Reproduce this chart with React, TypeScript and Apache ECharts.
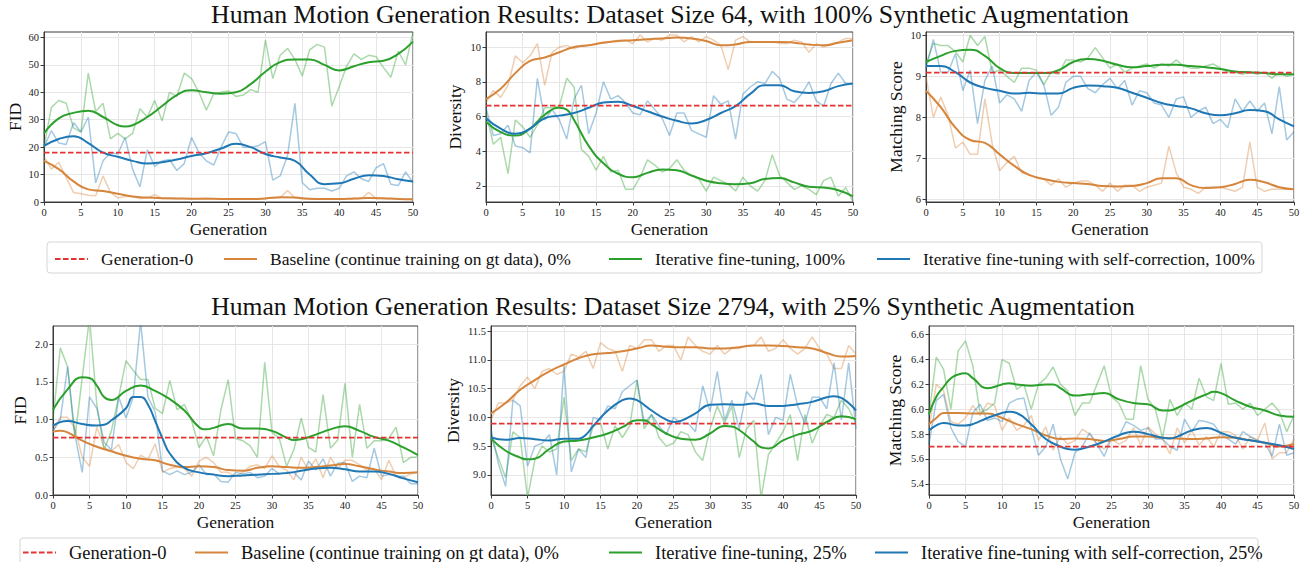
import React, { useEffect, useRef } from "react";
import * as echarts from "echarts";

// ---------------- DATA ----------------
const generations = [
  0, 1, 2, 3, 4, 5, 6, 7, 8, 9,
  10, 11, 12, 13, 14, 15, 16, 17, 18, 19,
  20, 21, 22, 23, 24, 25, 26, 27, 28, 29,
  30, 31, 32, 33, 34, 35, 36, 37, 38, 39,
  40, 41, 42, 43, 44, 45, 46, 47, 48, 49,
  50,
];

const title64 = "Human Motion Generation Results: Dataset Size 64, with 100% Synthetic Augmentation";
const title2794 = "Human Motion Generation Results: Dataset Size 2794, with 25% Synthetic Augmentation";

const nameGen0 = "Generation-0";
const nameBaseline = "Baseline (continue training on gt data), 0%";
const nameIter100 = "Iterative fine-tuning, 100%";
const nameSelf100 = "Iterative fine-tuning with self-correction, 100%";
const nameIter25 = "Iterative fine-tuning, 25%";
const nameSelf25 = "Iterative fine-tuning with self-correction, 25%";

const xTicks = [0, 5, 10, 15, 20, 25, 30, 35, 40, 45, 50];

// Generation-0 reference values
const gen0Values = [18, 6.63, 9.09, 0.76, 9.89, 5.7];

// ---- Dataset 64: FID ----
const fid64Base = [
  16.5, 12, 14.5, 9, 3.5, 3, 2.5, 2.3, 9.5, 3.5,
  1.5, 2, 2, 1.3, 1.5, 2.7, 1.3, 1.2, 1.3, 1.2,
  1.1, 1.2, 1.4, 1.2, 1.1, 1, 1, 1, 1.1, 1,
  1.3, 1.5, 1.6, 4.2, 1.5, 1.2, 1, 1, 1, 1,
  1, 1.2, 1.3, 1.2, 3.5, 1.3, 1.2, 1.2, 1, 1,
  0.9,
];
const fid64Iter = [
  20, 34.5, 37, 36, 27, 25.5, 47, 33, 36, 23,
  25, 23, 25, 34, 31, 37, 29.5, 40, 38.5, 47,
  45, 40, 33.5, 39.5, 40, 40.5, 38.5, 39, 41, 40,
  59, 45, 53.5, 56, 52, 46, 55.5, 57.5, 56.5, 35,
  42, 49.5, 54, 52, 53.5, 53, 49, 45.5, 55, 50,
  62,
];
const fid64Self = [
  20, 26, 21.5, 21, 29, 25.5, 31, 7, 15, 18,
  17.5, 23.5, 12, 5.5, 19, 13, 15, 15.5, 11.5, 14,
  23.5, 18, 15, 13.5, 20, 25.5, 25, 20, 20, 20.5,
  22, 8, 9.5, 17, 36, 7, 4.5, 5, 5, 4,
  5, 9.5, 11, 8.5, 7.5, 12.5, 14, 6.5, 6, 11,
  7,
];
const fid64BaseSmooth = [
  [0, 15], [2, 12], [4, 7.5], [6, 4.6], [8, 4], [10, 3], [12, 2], [14, 1.6], [16, 1.4],
  [18, 1.3], [20, 1.2], [22, 1.2], [24, 1.1], [26, 1.1], [28, 1.1], [30, 1.3], [32, 1.7],
  [34, 1.6], [36, 1.2], [38, 1.1], [40, 1.1], [42, 1.3], [44, 1.5], [46, 1.4], [48, 1.1], [50, 1],
];
const fid64IterSmooth = [
  [0, 25], [2, 30.5], [4, 32.5], [6, 33.3], [8, 31], [10, 28], [11, 27.5], [12, 28], [14, 31],
  [16, 35], [18, 39], [20, 40.8], [22, 40], [24, 39.5], [26, 40], [28, 43], [30, 47.5],
  [32, 51], [34, 52], [36, 52], [38, 50], [40, 48], [42, 49.5], [44, 51], [46, 51.5], [48, 54], [50, 58.5],
];
const fid64SelfSmooth = [
  [0, 20.5], [2, 23], [4, 24], [6, 21.5], [8, 18], [10, 16.5], [12, 15], [14, 14], [16, 14.5],
  [18, 15.5], [20, 16.8], [22, 17.8], [24, 19.5], [26, 21.2], [28, 20], [30, 17.5], [32, 16.2],
  [34, 15], [36, 10], [38, 6.5], [40, 6.8], [42, 8.5], [44, 9.8], [46, 9.5], [48, 8.3], [50, 7.5],
];

// ---- Dataset 64: Diversity ----
const div64Base = [
  6.8, 7.5, 7.1, 7.8, 9.5, 9.1, 9.5, 10.2, 7.8, 9.7,
  10, 10.1, 9.9, 10.1, 10.1, 10.2, 10.3, 10.3, 10.4, 10.4,
  10.2, 10.7, 10.3, 10.5, 10.4, 10.7, 10.7, 10.3, 10.6, 10.3,
  10.6, 10.4, 10.1, 8.7, 10.4, 10.6, 10.3, 10.3, 10.3, 10.3,
  10.2, 10.2, 10.4, 10.3, 9.7, 10.2, 10, 10.2, 10.3, 10.5,
  10.5,
];
const div64Iter = [
  6.2, 4.4, 4.8, 2.7, 5.8, 5.4, 4.8, 5.5, 6.5, 6.5,
  6.6, 8.2, 7.7, 4.1, 3.7, 2.9, 3.7, 2.8, 2.9, 1.8,
  1.8, 2.5, 3.5, 3.2, 2.8, 3, 3.5, 2.9, 2.6, 2.4,
  1.7, 2.5, 2.3, 2.1, 1.7, 2.5, 2, 1.7, 2.3, 3.8,
  2.6, 2.2, 1.8, 2, 1.8, 1.5, 2.3, 2.5, 1.4, 1.9,
  1.1,
];
const div64Self = [
  6.5, 4.9, 5, 5.5, 4.3, 4.2, 3.9, 8.2, 5.8, 6.4,
  5.8, 4.7, 7, 7.8, 5, 6.2, 8, 7, 7.2, 6.8,
  6.2, 6.1, 6.9, 6.4, 5.9, 4.9, 6.2, 6.2, 5.2, 5,
  4.8, 7.2, 6.7, 6.9, 4.7, 7.3, 7.7, 8, 7.9, 8.6,
  8.2, 7, 6.8, 7.3, 8, 6.9, 6.6, 7.9, 8.5, 7.9,
  7.9,
];
const div64BaseSmooth = [
  [0, 7], [2, 7.6], [4, 8.5], [6, 9.2], [8, 9.4], [10, 9.7], [12, 10], [14, 10.1], [16, 10.25],
  [18, 10.35], [20, 10.4], [22, 10.45], [24, 10.5], [26, 10.55], [28, 10.5], [30, 10.35], [32, 10.1],
  [34, 10.15], [36, 10.3], [38, 10.3], [40, 10.3], [42, 10.25], [44, 10.15], [46, 10.1], [48, 10.25], [50, 10.4],
];
const div64IterSmooth = [
  [0, 5.7], [2, 5.1], [4, 4.9], [6, 5.3], [8, 6.1], [10, 6.5], [11, 6.4], [12, 5.8], [14, 4.3],
  [16, 3.3], [18, 2.7], [20, 2.5], [22, 2.75], [24, 2.95], [26, 2.9], [28, 2.6], [30, 2.3],
  [32, 2.15], [34, 2.1], [36, 2.15], [38, 2.4], [40, 2.45], [42, 2.2], [44, 1.95], [46, 1.9], [48, 1.75], [50, 1.4],
];
const div64SelfSmooth = [
  [0, 5.9], [2, 5.3], [4, 5], [6, 5.3], [8, 5.9], [10, 6.05], [12, 6.2], [14, 6.5], [16, 6.8],
  [18, 6.85], [20, 6.6], [22, 6.3], [24, 6], [26, 5.75], [28, 5.6], [30, 5.8], [32, 6.2],
  [34, 6.6], [36, 7.3], [38, 7.8], [40, 7.8], [42, 7.45], [44, 7.35], [46, 7.45], [48, 7.75], [50, 7.9],
];

// ---- Dataset 64: Matching Score ----
const ms64Base = [
  9.0, 8, 8.5, 8.05, 7.25, 7.4, 7.1, 7.1, 8.45, 7.35,
  6.7, 6.9, 7.05, 6.65, 6.6, 6.55, 6.5, 6.35, 6.5, 6.3,
  6.4, 6.45, 6.45, 6.35, 6.2, 6.4, 6.2, 6.35, 6.35, 6.2,
  6.3, 6.35, 6.4, 7.3, 6.65, 6.3, 6.25, 6.15, 6.3, 6.3,
  6.3, 6.25, 6.2, 6.3, 7.4, 6.3, 6.2, 6.25, 6.25, 6.25,
  6.25,
];
const ms64Iter = [
  9.3, 9.8, 9.75, 9.75, 9.6, 9.35, 10, 9.75, 9.97, 9.1,
  9.15, 9, 8.85, 9.2, 9.2, 9.15, 8.8, 9.1, 9.05, 9.4,
  9.4, 9.35, 9.45, 9.7, 9.45, 9.2, 9.3, 9.1, 9.2, 9.25,
  9.3, 9.2, 9.3, 9.25, 9.4, 9.25, 9.2, 9.2, 9.25, 9.3,
  9.2, 9.1, 9.1, 9.05, 9.1, 9.05, 9.1, 8.95, 9.1, 9,
  9.05,
];
const ms64Self = [
  9.2, 9.9, 9.1, 9.1, 9.55, 8.65, 9.15, 7.85, 8.9, 9.25,
  8.35, 8.55, 8.45, 8.15, 8.9, 9.1, 8.8, 8.05, 8.25, 8.85,
  9, 9, 8.7, 8.6, 8.8, 8.95, 8.7, 8.9, 8.3, 8.65,
  8.6, 8.35, 8.3, 8, 8.45, 8.5, 8, 8.15, 8.25, 7.85,
  7.95, 7.75, 8.45, 8.15, 8.4, 8.15, 8.35, 7.6, 8.75, 7.45,
  7.65,
];
const ms64BaseSmooth = [
  [0, 8.65], [2, 8.25], [4, 7.75], [6, 7.45], [8, 7.38], [10, 7.1], [12, 6.82], [14, 6.6], [16, 6.5],
  [18, 6.43], [20, 6.4], [22, 6.38], [24, 6.33], [26, 6.32], [28, 6.33], [30, 6.4], [32, 6.52],
  [34, 6.52], [36, 6.35], [38, 6.28], [40, 6.3], [42, 6.38], [44, 6.48], [46, 6.42], [48, 6.3], [50, 6.25],
];
const ms64IterSmooth = [
  [0, 9.35], [2, 9.5], [4, 9.62], [6, 9.65], [8, 9.5], [10, 9.2], [12, 9.08], [14, 9.08], [16, 9.08],
  [18, 9.15], [20, 9.35], [22, 9.42], [24, 9.38], [26, 9.28], [28, 9.22], [30, 9.25], [32, 9.28],
  [34, 9.28], [36, 9.25], [38, 9.22], [40, 9.18], [42, 9.12], [44, 9.1], [46, 9.08], [48, 9.05], [50, 9.05],
];
const ms64SelfSmooth = [
  [0, 9.25], [2, 9.25], [4, 9.1], [6, 8.85], [8, 8.72], [10, 8.65], [12, 8.58], [14, 8.6], [16, 8.58],
  [18, 8.58], [20, 8.72], [22, 8.78], [24, 8.76], [26, 8.72], [28, 8.6], [30, 8.48], [32, 8.35],
  [34, 8.28], [36, 8.22], [38, 8.1], [40, 8.05], [42, 8.1], [44, 8.18], [46, 8.15], [48, 7.95], [50, 7.78],
];

// ---- Dataset 2794: FID ----
const fid2794Base = [
  0.85, 1.03, 1.03, 0.88, 0.5, 0.38, 0.9, 0.63, 0.58, 0.67,
  0.43, 0.35, 0.53, 0.47, 0.68, 0.3, 0.35, 0.37, 0.35, 0.25,
  0.45, 0.5, 0.43, 0.3, 0.3, 0.25, 0.3, 0.38, 0.4, 0.35,
  0.52, 0.38, 0.33, 0.2, 0.5, 0.33, 0.48, 0.23, 0.5, 0.35,
  0.46, 0.46, 0.4, 0.33, 0.35, 0.2, 0.46, 0.25, 0.23, 0.28,
  0.3,
];
const fid2794Iter = [
  1.0, 1.95, 1.7, 0.75, 1.55, 2.35, 1.2, 0.6, 0.85, 1.3,
  1.78, 1.65, 1.53, 1.53, 1.15, 1.08, 1.52, 1.13, 1.2, 0.98,
  0.63, 0.78, 0.52, 1.13, 1.53, 0.75, 0.72, 0.65, 0.5, 1.76,
  0.83, 0.75, 0.38, 0.6, 1.02, 0.63, 0.57, 1.33, 0.62, 0.73,
  1.48, 0.5, 1.2, 0.62, 0.72, 0.72, 0.75, 0.9, 0.43, 0.5,
  0.5,
];
const fid2794Self = [
  0.85, 1.0, 1.7, 0.8, 0.3, 1.3, 1.15, 0.7, 0.6, 1.3,
  1.02, 1.3, 2.3, 1.3, 1.1, 0.32, 0.27, 0.32, 0.27, 0.3,
  0.4, 0.27, 0.28, 0.18, 0.17, 0.3, 0.28, 0.3, 0.23, 0.25,
  0.35, 0.28, 0.3, 0.3, 0.2, 0.45, 0.33, 0.48, 0.25, 0.42,
  0.43, 0.18, 0.25, 0.23, 0.62, 0.25, 0.27, 0.25, 0.25, 0.15,
  0.15,
];
const fid2794BaseSmooth = [
  [0, 0.84], [1, 0.85], [2, 0.83], [4, 0.72], [6, 0.64], [8, 0.58], [10, 0.52], [12, 0.48], [14, 0.46],
  [16, 0.4], [18, 0.37], [20, 0.38], [22, 0.37], [24, 0.33], [26, 0.32], [28, 0.36], [30, 0.38],
  [32, 0.37], [34, 0.36], [36, 0.37], [38, 0.39], [40, 0.41], [42, 0.38], [44, 0.34], [46, 0.31], [48, 0.29], [50, 0.3],
];
const fid2794IterSmooth = [
  [0, 1.13], [2, 1.4], [4, 1.56], [5, 1.55], [6, 1.45], [7, 1.3], [8, 1.26], [10, 1.38], [12, 1.45],
  [14, 1.38], [16, 1.27], [18, 1.12], [20, 0.9], [21, 0.87], [22, 0.89], [24, 0.94], [26, 0.88],
  [28, 0.88], [30, 0.85], [32, 0.76], [33, 0.73], [34, 0.74], [36, 0.8], [38, 0.87], [40, 0.91],
  [42, 0.85], [44, 0.77], [46, 0.72], [48, 0.63], [50, 0.53],
];
const fid2794SelfSmooth = [
  [0, 0.92], [2, 0.98], [4, 0.94], [6, 0.92], [7, 0.93], [8, 0.99], [10, 1.15], [11, 1.3], [12, 1.3],
  [13, 1.2], [14, 0.98], [15, 0.75], [16, 0.55], [18, 0.36], [20, 0.3], [22, 0.27], [24, 0.25],
  [26, 0.26], [28, 0.27], [30, 0.28], [32, 0.29], [34, 0.32], [36, 0.35], [38, 0.36], [40, 0.34],
  [42, 0.31], [44, 0.31], [46, 0.28], [48, 0.22], [50, 0.17],
];

// ---- Dataset 2794: Diversity ----
const div2794Base = [
  9.95, 10.25, 10.25, 10.3, 10.55, 10.7, 10.5, 10.8, 10.85, 10.75,
  10.8, 11.1, 11.05, 11.15, 10.85, 11.3, 11.2, 11.15, 10.8, 11.25,
  11.2, 11.35, 11.35, 11.15, 11.25, 11.25, 11.0, 11.4, 11.25, 11.15,
  11.1, 11.25, 11.1, 11.2, 11.2, 11.25, 11.25, 11.4, 11.15, 11.2,
  11.35, 11.2, 11.1, 11.2, 11.4, 11.2, 11.1, 10.85, 10.85, 11.25,
  11.1,
];
const div2794Iter = [
  9.65, 9.3, 8.95, 9.75, 9.65, 8.6, 9.25, 9.5, 9.4, 9.45,
  10.35, 9.25, 9.45, 9.4, 9.85, 9.9, 9.45, 9.85, 9.65, 9.85,
  10.65, 9.8, 10.05, 9.65, 9.5, 9.55, 9.75, 9.7, 9.4, 9.25,
  9.8, 10.2, 9.9, 10.2, 9.3, 9.8, 9.95, 8.6, 9.35, 9.55,
  9.75, 10.05, 9.25, 10.05, 9.55, 9.85, 10.05, 10.0, 10.3, 10.15,
  9.9,
];
const div2794Self = [
  9.8, 9.2, 8.8, 10.3, 10.2, 9.15, 9.5, 9.55, 9.7, 9.0,
  10.9, 9.05, 9.45, 9.3, 10.0, 9.95, 10.2, 10.15, 10.45, 10.55,
  10.65, 9.9, 10.05, 9.85, 9.7, 10.0, 9.9, 9.9, 9.75, 10.55,
  10.1, 10.8, 9.95, 10.3, 9.8, 10.45, 10.3, 10.75, 9.7, 10.0,
  9.95, 10.75, 10.2, 9.9, 10.35, 10.35, 10.15, 10.95, 9.95, 10.95,
  9.8,
];
const div2794BaseSmooth = [
  [0, 10.07], [2, 10.25], [4, 10.48], [6, 10.65], [8, 10.8], [10, 10.92], [12, 11.03], [14, 11.1],
  [16, 11.12], [18, 11.15], [20, 11.2], [22, 11.25], [24, 11.23], [26, 11.22], [28, 11.22], [30, 11.2],
  [32, 11.2], [34, 11.22], [36, 11.25], [38, 11.25], [40, 11.24], [42, 11.22], [44, 11.2], [46, 11.12],
  [48, 11.06], [50, 11.07],
];
const div2794IterSmooth = [
  [0, 9.63], [2, 9.42], [4, 9.3], [5, 9.27], [6, 9.28], [8, 9.45], [10, 9.58], [12, 9.6], [14, 9.65],
  [16, 9.72], [18, 9.83], [20, 9.95], [21, 9.95], [22, 9.88], [24, 9.72], [26, 9.63], [28, 9.61],
  [30, 9.72], [32, 9.85], [33, 9.84], [34, 9.78], [36, 9.58], [37, 9.48], [38, 9.46], [40, 9.6],
  [42, 9.7], [44, 9.77], [46, 9.92], [48, 10.02], [50, 9.97],
];
const div2794SelfSmooth = [
  [0, 9.65], [2, 9.61], [4, 9.64], [6, 9.62], [8, 9.6], [10, 9.63], [12, 9.63], [13, 9.7], [14, 9.85],
  [16, 10.12], [18, 10.3], [19, 10.33], [20, 10.3], [22, 10.12], [24, 9.96], [25, 9.92], [26, 9.94],
  [28, 10.07], [30, 10.22], [32, 10.23], [34, 10.22], [36, 10.24], [38, 10.2], [40, 10.2], [42, 10.23],
  [44, 10.27], [46, 10.35], [47, 10.37], [48, 10.34], [50, 10.12],
];

// ---- Dataset 2794: Matching Score ----
const ms2794Base = [
  5.85, 6.2, 6.15, 5.9, 5.88, 5.93, 6.03, 5.95, 6.05, 6.03,
  5.83, 5.93, 5.83, 5.87, 5.95, 5.75, 5.86, 5.67, 5.78, 5.72,
  5.75, 5.84, 5.8, 5.72, 5.68, 5.76, 5.72, 5.75, 5.85, 5.71,
  5.86, 5.8, 5.76, 5.64, 5.85, 5.73, 5.83, 5.71, 5.78, 5.7,
  5.82, 5.82, 5.79, 5.68, 5.78, 5.75, 5.89, 5.6, 5.65, 5.65,
  5.76,
];
const ms2794Iter = [
  5.95, 6.42, 6.32, 6.0, 6.47, 6.55, 6.35, 5.97, 6.0, 6.05,
  6.4, 6.37, 6.16, 6.2, 6.0, 6.2, 6.25, 6.34, 6.2, 6.15,
  5.95, 6.05, 6.05, 6.2, 6.35, 6.1, 6.05, 5.92, 5.92, 6.35,
  6.08, 6.0, 5.77, 6.08, 5.95, 6.05, 6.0, 6.25, 6.1, 6.07,
  6.37, 6.04, 6.05, 6.0, 6.05, 5.95, 6.0, 6.05, 5.98, 5.82,
  5.95,
];
const ms2794Self = [
  5.72, 6.07, 6.12, 5.85, 5.74, 5.7, 5.97, 6.04, 5.91, 5.93,
  5.9, 6.05, 6.08, 6.09, 5.85, 5.63, 5.7, 5.88, 5.6, 5.44,
  5.65, 5.7, 5.81, 5.72, 5.62, 5.77, 5.78, 5.9, 5.87, 5.83,
  5.85, 5.76, 5.76, 5.7, 5.67, 5.92, 5.82, 5.91, 5.9, 5.88,
  5.8, 5.76, 5.72, 5.82, 5.78, 5.75, 5.73, 5.62, 5.88, 5.63,
  5.65,
];
const ms2794BaseSmooth = [
  [0, 5.88], [1, 5.93], [2, 5.97], [4, 5.97], [6, 5.965], [8, 5.965], [10, 5.93], [12, 5.88], [14, 5.84],
  [16, 5.79], [18, 5.76], [20, 5.765], [22, 5.76], [24, 5.745], [26, 5.76], [28, 5.78], [30, 5.78],
  [32, 5.77], [34, 5.765], [36, 5.76], [38, 5.765], [40, 5.775], [42, 5.77], [44, 5.75], [46, 5.73],
  [48, 5.7], [50, 5.72],
];
const ms2794IterSmooth = [
  [0, 5.96], [1, 6.1], [2, 6.18], [3, 6.25], [4, 6.28], [5, 6.29], [6, 6.25], [8, 6.17], [10, 6.2],
  [11, 6.21], [12, 6.2], [14, 6.19], [16, 6.2], [17, 6.2], [18, 6.17], [20, 6.11], [22, 6.12],
  [24, 6.13], [26, 6.08], [28, 6.05], [30, 6.04], [32, 5.99], [33, 5.99], [34, 6.01], [36, 6.07],
  [38, 6.12], [39, 6.14], [40, 6.13], [42, 6.07], [44, 6.02], [46, 5.99], [48, 5.95], [50, 5.94],
];
const ms2794SelfSmooth = [
  [0, 5.83], [1, 5.87], [2, 5.89], [4, 5.87], [5, 5.87], [6, 5.88], [8, 5.93], [10, 5.97], [11, 5.98],
  [12, 5.97], [14, 5.88], [16, 5.76], [18, 5.7], [19, 5.68], [20, 5.675], [22, 5.7], [24, 5.74],
  [26, 5.79], [28, 5.82], [30, 5.8], [32, 5.77], [33, 5.765], [34, 5.78], [36, 5.83], [38, 5.85],
  [40, 5.81], [42, 5.77], [44, 5.75], [46, 5.73], [48, 5.71], [50, 5.68],
];

// y tick labels
const fid64Ticks = [0, 10, 20, 30, 40, 50, 60];
const div64Ticks = [2, 4, 6, 8, 10];
const ms64Ticks = [6, 7, 8, 9, 10];
const fid2794Ticks = [0, 0.5, 1.0, 1.5, 2.0];
const div2794Ticks = [9.0, 9.5, 10.0, 10.5, 11.0, 11.5];
const ms2794Ticks = [5.4, 5.6, 5.8, 6.0, 6.2, 6.4, 6.6];

// ---------------- STYLE / LAYOUT ----------------
const FONT = "Liberation Serif";
const C_BASE = "#d6853c";
const C_ITER = "#2ca02c";
const C_SELF = "#1f77b4";
const C_GEN0 = "#e43232";

const panels = [
  { grid: { left: 44, top: 32, width: 369, height: 170 }, yName: "FID", yMin: 0, yMax: 62, yInt: 10, dec: 0, ticks: fid64Ticks, nameGap: 20,
    base: fid64Base, baseS: fid64BaseSmooth, iter: fid64Iter, iterS: fid64IterSmooth, self: fid64Self, selfS: fid64SelfSmooth, iterName: nameIter100, selfName: nameSelf100 },
  { grid: { left: 486, top: 32, width: 367, height: 170 }, yName: "Diversity", yMin: 1.07, yMax: 10.87, yInt: 2, dec: 0, ticks: div64Ticks, nameGap: 22,
    base: div64Base, baseS: div64BaseSmooth, iter: div64Iter, iterS: div64IterSmooth, self: div64Self, selfS: div64SelfSmooth, iterName: nameIter100, selfName: nameSelf100 },
  { grid: { left: 926, top: 32, width: 368, height: 170 }, yName: "Matching Score", yMin: 5.94, yMax: 10.08, yInt: 1, dec: 0, ticks: ms64Ticks, nameGap: 21,
    base: ms64Base, baseS: ms64BaseSmooth, iter: ms64Iter, iterS: ms64IterSmooth, self: ms64Self, selfS: ms64SelfSmooth, iterName: nameIter100, selfName: nameSelf100 },
  { grid: { left: 53, top: 326, width: 365, height: 169 }, yName: "FID", yMin: 0, yMax: 2.24, yInt: 0.5, dec: 1, ticks: fid2794Ticks, nameGap: 24,
    base: fid2794Base, baseS: fid2794BaseSmooth, iter: fid2794Iter, iterS: fid2794IterSmooth, self: fid2794Self, selfS: fid2794SelfSmooth, iterName: nameIter25, selfName: nameSelf25 },
  { grid: { left: 491, top: 326, width: 365, height: 169 }, yName: "Diversity", yMin: 8.65, yMax: 11.59, yInt: 0.5, dec: 1, ticks: div2794Ticks, nameGap: 29,
    base: div2794Base, baseS: div2794BaseSmooth, iter: div2794Iter, iterS: div2794IterSmooth, self: div2794Self, selfS: div2794SelfSmooth, iterName: nameIter25, selfName: nameSelf25 },
  { grid: { left: 929, top: 326, width: 365, height: 169 }, yName: "Matching Score", yMin: 5.31, yMax: 6.67, yInt: 0.2, dec: 1, ticks: ms2794Ticks, nameGap: 25,
    base: ms2794Base, baseS: ms2794BaseSmooth, iter: ms2794Iter, iterS: ms2794IterSmooth, self: ms2794Self, selfS: ms2794SelfSmooth, iterName: nameIter25, selfName: nameSelf25 },
];

const legendRows = [
  { box: { x: 47, y: 242, w: 1215, h: 31 }, cy: 257, fontSize: 17.5,
    items: [
      { name: nameGen0, x: 54 },
      { name: nameBaseline, x: 223 },
      { name: nameIter100, x: 608 },
      { name: nameSelf100, x: 876 },
    ] },
  { box: { x: 20, y: 538, w: 1238, h: 30 }, cy: 550, fontSize: 18.5,
    items: [
      { name: nameGen0, x: 22 },
      { name: nameBaseline, x: 194 },
      { name: nameIter25, x: 608 },
      { name: nameSelf25, x: 874 },
    ] },
];

function rawPairs(values: number[]) {
  return generations.map((g, i) => [g, values[i]]);
}

function buildOption() {
  const series: any[] = [];
  panels.forEach((p, i) => {
    const common = { type: "line", xAxisIndex: i, yAxisIndex: i, symbol: "none", showSymbol: false, silent: true, emphasis: { disabled: true } };
    series.push({ ...common, name: nameBaseline, data: p.baseS, smooth: 0.5, z: 3, lineStyle: { color: C_BASE, width: 2 }, itemStyle: { color: C_BASE } });
    series.push({ ...common, name: p.iterName, data: p.iterS, smooth: 0.5, z: 3, lineStyle: { color: C_ITER, width: 2 }, itemStyle: { color: C_ITER } });
    series.push({ ...common, name: p.selfName, data: p.selfS, smooth: 0.5, z: 3, lineStyle: { color: C_SELF, width: 2 }, itemStyle: { color: C_SELF } });
    series.push({ ...common, name: nameBaseline, data: rawPairs(p.base), z: 2, lineStyle: { color: C_BASE, width: 1.5, opacity: 0.4 }, itemStyle: { color: C_BASE } });
    series.push({ ...common, name: p.iterName, data: rawPairs(p.iter), z: 2, lineStyle: { color: C_ITER, width: 1.5, opacity: 0.4 }, itemStyle: { color: C_ITER } });
    series.push({ ...common, name: p.selfName, data: rawPairs(p.self), z: 2, lineStyle: { color: C_SELF, width: 1.5, opacity: 0.4 }, itemStyle: { color: C_SELF } });
    series.push({ ...common, name: nameGen0, data: [[xTicks[0], gen0Values[i]], [xTicks[xTicks.length - 1], gen0Values[i]]], z: 4,
      lineStyle: { color: C_GEN0, width: 1.8, type: [5.5, 2.5] }, itemStyle: { color: C_GEN0 } });
  });

  const legends: any[] = [];
  legendRows.forEach((row) => {
    row.items.forEach((it) => {
      legends.push({
        data: [it.name], left: it.x, top: row.cy - 7, itemWidth: 33, itemHeight: 14, padding: 0,
        selectedMode: false, z: 10,
        itemStyle: { color: "transparent", borderColor: "transparent", borderWidth: 0, opacity: 0 },
        textStyle: { fontFamily: FONT, fontSize: row.fontSize, color: "#111", padding: [0, 0, 0, 8] },
      });
    });
  });

  const axisNameStyle = { fontFamily: FONT, fontSize: 17.5, color: "#111" };
  const labelStyle = { fontFamily: FONT, fontSize: 10.5, color: "#222" };

  return {
    animation: false,
    backgroundColor: "#ffffff",
    textStyle: { fontFamily: FONT },
    title: [
      { text: title64, left: 665, top: -4, textAlign: "center", textStyle: { fontFamily: FONT, fontSize: 25.8, fontWeight: "normal", color: "#111" } },
      { text: title2794, left: 668, top: 288, textAlign: "center", textStyle: { fontFamily: FONT, fontSize: 25.6, fontWeight: "normal", color: "#111" } },
    ],
    legend: legends,
    graphic: legendRows.map((row) => ({
      type: "rect", z: 1, silent: true,
      shape: { x: row.box.x, y: row.box.y, width: row.box.w, height: row.box.h, r: 3 },
      style: { fill: "#ffffff", stroke: "#d6d6d6", lineWidth: 1 },
    })),
    grid: panels.map((p) => ({ ...p.grid, show: true, borderColor: "#3a3a3a", borderWidth: 1, backgroundColor: "transparent", containLabel: false, outerBoundsMode: "none" })),
    xAxis: panels.map((p, i) => ({
      type: "value", gridIndex: i, min: 0, max: 50, interval: 5,
      name: "Generation", nameLocation: "middle", nameGap: 18, nameTextStyle: axisNameStyle,
      axisLine: { show: true, onZero: false, lineStyle: { color: "#3a3a3a", width: 1 } },
      axisTick: { show: true, length: 3.5, lineStyle: { color: "#3a3a3a" } },
      axisLabel: { ...labelStyle, margin: 5, showMinLabel: true, showMaxLabel: true },
      splitLine: { show: true, lineStyle: { color: "#e6e6e6", width: 1 } },
    })),
    yAxis: panels.map((p, i) => ({
      type: "value", gridIndex: i, min: p.yMin, max: p.yMax, minInterval: p.yInt, maxInterval: p.yInt, splitNumber: 5,
      name: p.yName, nameLocation: "middle", nameGap: p.nameGap, nameRotate: 90, nameTextStyle: axisNameStyle,
      axisLine: { show: true, onZero: false, lineStyle: { color: "#3a3a3a", width: 1 } },
      axisTick: { show: true, length: 3.5, lineStyle: { color: "#3a3a3a" }, customValues: p.ticks },
      axisLabel: { ...labelStyle, margin: 5, customValues: p.ticks, formatter: (v: number) => v.toFixed(p.dec) },
      splitLine: { show: true, lineStyle: { color: "#e6e6e6", width: 1 } },
    })),
    series,
  };
}

export default function App() {
  const ref = useRef<HTMLDivElement>(null);
  useEffect(() => {
    if (!ref.current) return;
    const chart = echarts.init(ref.current, undefined, { renderer: "svg" });
    chart.setOption(buildOption() as any);
    return () => chart.dispose();
  }, []);
  return <div ref={ref} style={{ position: "absolute", left: 0, top: 0, width: 1308, height: 562, background: "#fff" }} />;
}
